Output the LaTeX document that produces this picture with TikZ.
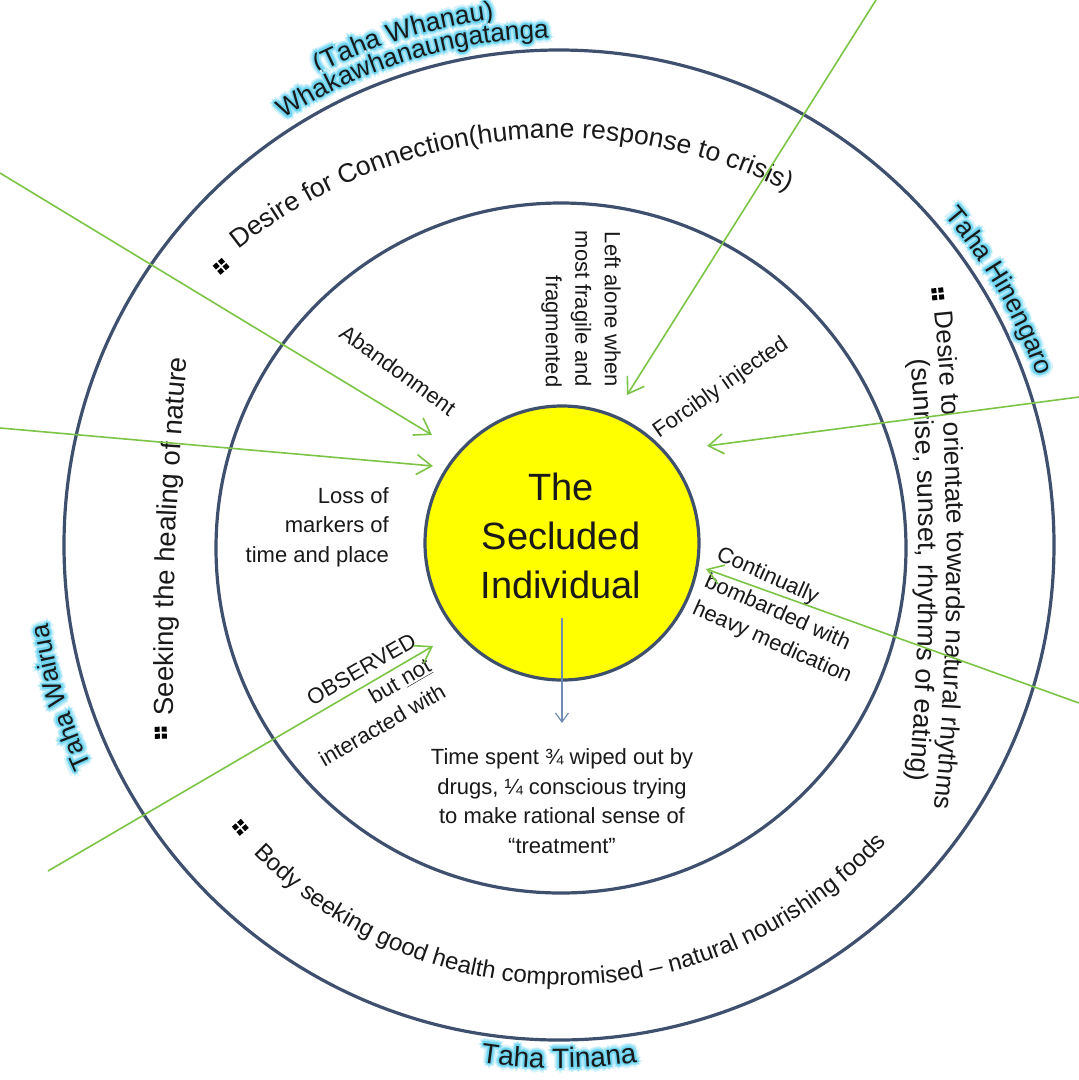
\documentclass[tikz,border=0pt]{standalone}
\usepackage{fontspec}
\setmainfont{Liberation Sans}
\usetikzlibrary{decorations.text,arrows.meta}
\definecolor{ringc}{RGB}{62,80,110}
\definecolor{arrowg}{RGB}{124,196,70}
\definecolor{arrowb}{RGB}{112,140,180}
\definecolor{coreY}{RGB}{255,255,0}
\definecolor{glowA}{RGB}{110,212,240}
\definecolor{glowB}{RGB}{165,230,248}
\definecolor{glowC}{RGB}{215,244,252}
\definecolor{txt}{RGB}{25,25,25}
% #1 cx, #2 cy, #3 r, #4 start, #5 end, #6 size, #7 text
\newcommand\glowarc[7]{%
  \begin{scope}[shift={(#1,#2)}]
    \foreach \gr/\gc in {5/glowC,3.3/glowB,1.7/glowA}{
      \foreach \ga in {0,45,...,315}{
        \path[shift={(\ga:\gr)},decorate,decoration={text along path,text align=center,text color=\gc,text={|\fontsize{#6}{#6}\selectfont|#7}}]
          (#4:#3) arc[start angle=#4,end angle=#5,radius=#3];
      }
    }
    \path[decorate,decoration={text along path,text align=center,text color=txt,text={|\fontsize{#6}{#6}\selectfont|#7}}]
      (#4:#3) arc[start angle=#4,end angle=#5,radius=#3];
  \end{scope}}
% #1 cx, #2 cy, #3 r, #4 start, #5 end, #6 size, #7 text
\newcommand\arctext[7]{%
  \begin{scope}[shift={(#1,#2)}]
    \path[decorate,decoration={text along path,text align=center,text color=txt,text={|\fontsize{#6}{#6}\selectfont|#7}}]
      (#4:#3) arc[start angle=#4,end angle=#5,radius=#3];
  \end{scope}}
\begin{document}
\begin{tikzpicture}[x=1pt,y=1pt,
  ring/.style={circle,draw=ringc,line width=3.2pt,inner sep=0pt},
  corec/.style={circle,draw=ringc,line width=3.2pt,fill=coreY,inner sep=0pt,minimum size=274pt},
  lbl/.style={font=\fontsize{22}{29.5}\selectfont,text=txt,inner sep=0pt},
  garrow/.style={draw=arrowg,line width=1.6pt,-{Straight Barb[length=15pt,width=20pt]}},
  barrow/.style={draw=arrowb,line width=1.2pt,-{Straight Barb[length=9pt,width=13pt]}},
  qbul/.pic={\fill[black] (-6,1) rectangle (-1,6) (1,1) rectangle (6,6) (-6,-6) rectangle (-1,-1) (1,-6) rectangle (6,-1);}
]
\useasboundingbox[fill=white] (0,0) rectangle (1079,-1080);

% rings
\node[ring,minimum size=990pt] (outer) at (559,-545) {};
\node[ring,minimum size=690pt] (mid) at (561,-548) {};
\node[corec] (core) at (562,-543) {};
\node[font=\fontsize{38}{49}\selectfont,align=center,text=txt,inner sep=0pt] (coretext) at (561,-536) {The\\Secluded\\Individual};

% glowing outer labels
\glowarc{559}{-545}{529.5}{127}{87}{26.5}{(Taha Whanau)}
\glowarc{559}{-545}{507}{132}{82}{26}{Whakawhanaungatanga}
\glowarc{559}{-545}{507}{55}{5}{26}{Taha Hinengaro}
\glowarc{559}{-545}{517}{222}{172}{26}{Taha Wairua}
\glowarc{559}{-545}{523}{250}{290}{28}{Taha Tinana}

% curved ring texts
\arctext{559}{-655}{517}{136.5}{55.5}{26.5}{Desire for Connection(humane response to crisis)}
\pic[rotate=41] at ([shift={(559,-655)}]131:515) {qbul};
\arctext{565}{-550}{435}{222}{320}{24}{Body seeking good health compromised – natural nourishing foods}
\pic[rotate=-49] at ([shift={(565,-550)}]220.5:427) {qbul};
\arctext{3543}{-666}{3370}{182.8}{172.8}{27.5}{Seeking the healing of nature}
\pic[rotate=91] at ([shift={(3543,-666)}]181.13:3383) {qbul};
\arctext{-1553}{-560}{2500}{10}{-10}{26}{Desire to orientate towards natural rhythms}
\arctext{-1553}{-560}{2472}{9.77}{-10.23}{27}{(sunrise, sunset, rhythms of eating)}
\pic[rotate=-84] at ([shift={(-1553,-560)}]6.1:2505) {qbul};

% inner labels
\node[lbl,align=right,anchor=east] (loss) at (389,-527) {Loss of\\markers of\\time and place};
\node[lbl,rotate=-36] (aband) at (398,-370) {Abandonment};
\node[lbl,rotate=-90,align=right] (leftalone) at (581,-309) {Left alone when\\most fragile and\\fragmented};
\node[lbl,rotate=35] (forcibly) at (721,-388) {Forcibly injected};
\node[lbl,rotate=-24,align=left] (contin) at (784,-616) {Continually\\bombarded with\\heavy medication};
\node[lbl,rotate=30,align=right,anchor=east] (observed) at (429,-664) {OBSERVED\\but \underline{not}\\interacted with};
\node[lbl,align=center] (timespent) at (562,-801) {Time spent ¾ wiped out by\\drugs, ¼ conscious trying\\to make rational sense of\\“treatment”};

% arrows
\coordinate (a1s) at (0,-173);   \coordinate (a1e) at (432,-435);
\coordinate (a2s) at (0,-428);   \coordinate (a2e) at (433,-466);
\coordinate (a3s) at (876,0);    \coordinate (a3e) at (627,-395);
\coordinate (a4s) at (1079,-397);\coordinate (a4e) at (707,-446);
\coordinate (a5s) at (1079,-703);\coordinate (a5e) at (706,-569);
\coordinate (a6s) at (48,-871);  \coordinate (a6e) at (433,-646);
\coordinate (b7s) at (562,-618); \coordinate (b7e) at (562,-723);
\draw[garrow] (a1s) -- (a1e);
\draw[garrow] (a2s) -- (a2e);
\draw[garrow] (a3s) -- (a3e);
\draw[garrow] (a4s) -- (a4e);
\draw[garrow] (a5s) -- (a5e);
\draw[garrow] (a6s) -- (a6e);
\draw[barrow] (b7s) -- (b7e);
\end{tikzpicture}
\end{document}
